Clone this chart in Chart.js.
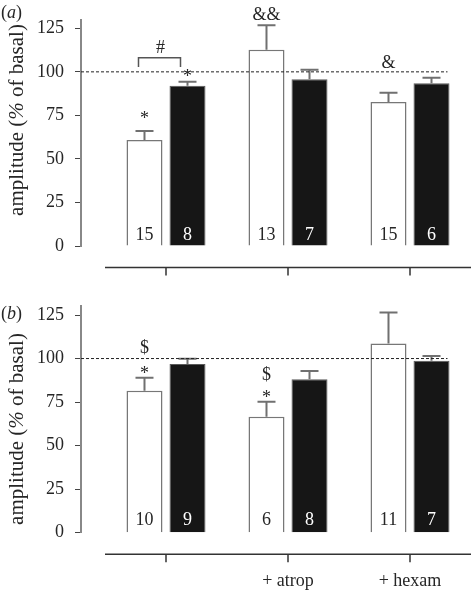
<!DOCTYPE html>
<html><head><meta charset="utf-8">
<script src="https://cdn.jsdelivr.net/npm/chart.js@4.4.1/dist/chart.umd.min.js"></script>
<style>
html,body{margin:0;padding:0;background:#fff;}
body{width:471px;height:591px;position:relative;overflow:hidden;font-family:'Liberation Serif',serif;color:#262626;}
.panel{position:absolute;left:0;width:471px;}
canvas{position:absolute;left:0;top:0;}
.plabel{position:absolute;left:1px;font-size:18px;line-height:1;}
.ytitle{position:absolute;font-size:21px;line-height:1;white-space:nowrap;transform:translate(-50%,-50%) rotate(-90deg);}
</style></head>
<body>
<div class="panel" style="top:0;height:280px"><canvas id="ca" width="471" height="280"></canvas></div>
<div class="panel" style="top:280px;height:311px"><canvas id="cb" width="471" height="311"></canvas></div>
<div class="plabel" style="top:3px">(<i>a</i>)</div>
<div class="plabel" style="top:304px">(<i>b</i>)</div>
<div class="ytitle" style="left:16px;top:120px">amplitude (<i>%</i> of basal)</div>
<div class="ytitle" style="left:16px;top:429px">amplitude (<i>%</i> of basal)</div>
<script>
// ---- data ----
const categories = ['', '+ atrop', '+ hexam'];
const yTicks = [0, 25, 50, 75, 100, 125];
const refLevel = 100;

// panel (a)
const aOpen = [60.9, 112.7, 82.7];
const aOpenErr = [5.1, 14.0, 5.3];
const aFilled = [92.0, 95.7, 93.4];
const aFilledErr = [2.3, 5.5, 3.2];
const aOpenN = ['15', '13', '15'];
const aFilledN = ['8', '7', '6'];
const aMarks = [
  {set: 0, i: 0, t: '*', v: 69.8},
  {set: 1, i: 0, t: '*', v: 93.9},
  {set: 0, i: 1, t: '&&', v: 129.7},
  {set: 0, i: 2, t: '&', v: 102.1}
];
const aBrackets = [{i: 0, top: 108.1, leg: 102.8, t: '#', v: 110.7}];

// panel (b)
const bOpen = [81.5, 66.6, 108.7];
const bOpenErr = [7.5, 8.6, 17.8];
const bFilled = [96.9, 88.1, 98.8];
const bFilledErr = [3.0, 4.7, 2.7];
const bOpenN = ['10', '6', '11'];
const bFilledN = ['9', '8', '7'];
const bMarks = [
  {set: 0, i: 0, t: '$', v: 103.0},
  {set: 0, i: 0, t: '*', v: 88.1},
  {set: 0, i: 1, t: '$', v: 87.5},
  {set: 0, i: 1, t: '*', v: 74.4}
];
const bBrackets = [];

Chart.defaults.font.family = "'Liberation Serif', serif";
Chart.defaults.font.size = 18;
Chart.defaults.color = '#262626';

function makeExtras(p) {
  return {
    id: 'extras',
    afterDatasetsDraw(chart) {
      const ctx = chart.ctx, ys = chart.scales.y, xs = chart.scales.x, area = chart.chartArea;
      const metas = [chart.getDatasetMeta(0), chart.getDatasetMeta(1)];
      const vals = [p.open, p.filled], errs = [p.openErr, p.filledErr];
      ctx.save();
      // error bars
      metas.forEach((meta, s) => {
        meta.data.forEach((bar, i) => {
          const yTop = ys.getPixelForValue(vals[s][i] + errs[s][i]);
          ctx.beginPath();
          ctx.moveTo(bar.x, bar.y);
          ctx.lineTo(bar.x, yTop);
          ctx.moveTo(bar.x - 9, yTop);
          ctx.lineTo(bar.x + 9, yTop);
          ctx.strokeStyle = '#707070';
          ctx.lineWidth = 2;
          ctx.stroke();
        });
      });
      // reference dashed line
      const lastBar = metas[1].data[metas[1].data.length - 1];
      const yRef = ys.getPixelForValue(refLevel);
      ctx.beginPath();
      ctx.setLineDash([3, 2]);
      ctx.moveTo(ys.right, yRef);
      ctx.lineTo(lastBar.x + lastBar.width / 2 - 2, yRef);
      ctx.strokeStyle = '#222';
      ctx.lineWidth = 1;
      ctx.stroke();
      ctx.setLineDash([]);
      // separate x axis line with ticks
      const yAx = area.bottom + 21.5;
      ctx.beginPath();
      ctx.moveTo(area.left, yAx);
      ctx.lineTo(area.right, yAx);
      xs.ticks.forEach((t, i) => {
        const px = xs.getPixelForTick(i);
        ctx.moveTo(px, yAx);
        ctx.lineTo(px, yAx + 8);
      });
      ctx.strokeStyle = '#333';
      ctx.lineWidth = 1.5;
      ctx.stroke();
      // n labels
      ctx.font = "18px 'Liberation Serif'";
      ctx.textAlign = 'center';
      ctx.textBaseline = 'alphabetic';
      const yN = ys.getPixelForValue(p.nLevel);
      metas[0].data.forEach((bar, i) => { ctx.fillStyle = '#262626'; ctx.fillText(p.openN[i], bar.x, yN); });
      metas[1].data.forEach((bar, i) => { ctx.fillStyle = '#fff'; ctx.fillText(p.filledN[i], bar.x, yN); });
      // significance marks
      ctx.fillStyle = '#262626';
      p.marks.forEach(m => {
        const bar = metas[m.set].data[m.i];
        ctx.fillText(m.t, bar.x, ys.getPixelForValue(m.v));
      });
      // brackets
      p.brackets.forEach(b => {
        const x1 = metas[0].data[b.i].x - 6;
        const x2 = metas[1].data[b.i].x - 7;
        const yT = ys.getPixelForValue(b.top), yL = ys.getPixelForValue(b.leg);
        ctx.beginPath();
        ctx.moveTo(x1, yL); ctx.lineTo(x1, yT); ctx.lineTo(x2, yT); ctx.lineTo(x2, yL);
        ctx.strokeStyle = '#555';
        ctx.lineWidth = 1.5;
        ctx.stroke();
        ctx.fillText(b.t, (x1 + x2) / 2 + 1, ys.getPixelForValue(b.v));
      });
      ctx.restore();
    }
  };
}

function makePanel(id, p) {
  return new Chart(document.getElementById(id), {
    type: 'bar',
    data: {
      labels: categories,
      datasets: [
        {label: 'open', data: p.open, backgroundColor: '#ffffff', borderColor: '#777', borderWidth: 1.5,
         categoryPercentage: 0.705, barPercentage: 0.837},
        {label: 'filled', data: p.filled, backgroundColor: '#161616', borderColor: '#5a5a5a', borderWidth: 1,
         categoryPercentage: 0.705, barPercentage: 0.837}
      ]
    },
    options: {
      responsive: false,
      animation: false,
      devicePixelRatio: 1,
      layout: {padding: {top: p.padTop, bottom: 0, left: 0, right: 0}},
      plugins: {legend: {display: false}, tooltip: {enabled: false}},
      scales: {
        x: {
          type: 'category', offset: true,
          grid: {display: false, drawTicks: false},
          border: {display: false},
          ticks: {display: p.showX, padding: 38, color: '#262626', maxRotation: 0, autoSkip: false},
          afterFit: s => { s.height = p.xSpace; s.paddingLeft = 0; s.paddingRight = 0; }
        },
        y: {
          type: 'linear', position: 'left', weight: 1, min: 0, max: 130,
          afterBuildTicks: s => { s.ticks = yTicks.map(v => ({value: v})); },
          afterFit: s => { s.width = 81; s.paddingTop = 0; s.paddingBottom = 0; },
          ticks: {padding: 11, color: '#262626'},
          grid: {drawOnChartArea: false, drawTicks: true, tickLength: 6, color: '#444', lineWidth: 1},
          border: {display: true, color: '#888', width: 2}
        },
        yGap: {
          type: 'linear', position: 'left', weight: 0,
          ticks: {display: false}, grid: {display: false}, border: {display: false},
          afterFit: s => { s.width = 24; s.paddingTop = 0; s.paddingBottom = 0; }
        }
      }
    },
    plugins: [makeExtras(p)]
  });
}

makePanel('ca', {open: aOpen, openErr: aOpenErr, filled: aFilled, filledErr: aFilledErr,
  openN: aOpenN, filledN: aFilledN, marks: aMarks, brackets: aBrackets,
  nLevel: 3.5, padTop: 19.6, xSpace: 34, showX: false});
makePanel('cb', {open: bOpen, openErr: bOpenErr, filled: bFilled, filledErr: bFilledErr,
  openN: bOpenN, filledN: bFilledN, marks: bMarks, brackets: bBrackets,
  nLevel: 4.5, padTop: 26.3, xSpace: 58.3, showX: true});
</script>
</body></html>
